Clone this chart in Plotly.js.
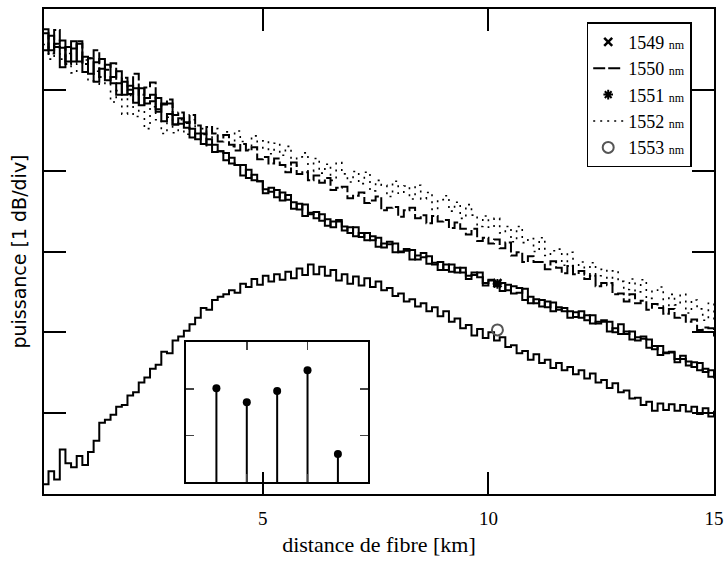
<!DOCTYPE html>
<html>
<head>
<meta charset="utf-8">
<script src="https://cdn.plot.ly/plotly-3.0.1.min.js"></script>
<style>html,body{margin:0;padding:0;background:#fff;}#chart{width:728px;height:563px;}</style>
</head>
<body>
<div id="chart"></div>
<script>
// distance along the fibre [km]
const distanceKm = [
0.125,0.25,0.375,0.5,0.625,0.75,0.875,1,
1.125,1.25,1.375,1.5,1.625,1.75,1.875,2,
2.125,2.25,2.375,2.5,2.625,2.75,2.875,3,
3.125,3.25,3.375,3.5,3.625,3.75,3.875,4,
4.125,4.25,4.375,4.5,4.625,4.75,4.875,5,
5.125,5.25,5.375,5.5,5.625,5.75,5.875,6,
6.125,6.25,6.375,6.5,6.625,6.75,6.875,7,
7.125,7.25,7.375,7.5,7.625,7.75,7.875,8,
8.125,8.25,8.375,8.5,8.625,8.75,8.875,9,
9.125,9.25,9.375,9.5,9.625,9.75,9.875,10,
10.125,10.25,10.375,10.5,10.625,10.75,10.875,11,
11.125,11.25,11.375,11.5,11.625,11.75,11.875,12,
12.125,12.25,12.375,12.5,12.625,12.75,12.875,13,
13.125,13.25,13.375,13.5,13.625,13.75,13.875,14,
14.125,14.25,14.375,14.5,14.625,14.75,14.875,15];

// power [dB, 1 dB/div, arbitrary origin]
const p1549 = [
5.49,5.67,5.53,5.28,5.53,5.35,5.57,5.22,
5.39,5.10,5.26,5.31,5.08,4.94,5.10,5.00,
4.84,5.02,4.83,4.86,4.90,4.61,4.70,4.57,
4.65,4.53,4.41,4.46,4.33,4.39,4.23,4.24,
4.13,4.16,4.07,3.94,4.01,3.88,3.87,3.72,
3.79,3.67,3.73,3.64,3.53,3.59,3.44,3.48,
3.41,3.46,3.32,3.37,3.39,3.26,3.30,3.19,
3.23,3.14,3.19,3.06,3.10,3.12,2.99,3.00,
3.03,2.90,2.95,2.98,2.85,2.86,2.77,2.84,
2.75,2.80,2.74,2.66,2.74,2.68,2.58,2.64,
2.60,2.51,2.59,2.48,2.49,2.54,2.36,2.41,
2.32,2.38,2.26,2.31,2.26,2.18,2.25,2.18,
2.21,2.11,2.13,2.15,2.01,2.05,1.98,2.01,
1.91,1.94,1.95,1.81,1.83,1.72,1.75,1.76,
1.63,1.67,1.59,1.63,1.53,1.55,1.45,1.47];

const p1550 = [
5.70,5.45,5.74,5.52,5.32,5.51,5.60,5.32,
5.39,5.49,5.16,5.25,5.33,5.08,5.15,4.95,
5.20,4.94,5.03,5.09,4.76,4.83,4.88,4.69,
4.72,4.59,4.69,4.56,4.45,4.54,4.46,4.36,
4.44,4.32,4.25,4.33,4.25,4.29,4.14,4.17,
4.09,4.15,4.07,3.98,4.10,3.96,3.98,3.88,
3.94,3.85,3.91,3.76,3.79,3.80,3.66,3.69,
3.73,3.60,3.63,3.68,3.51,3.54,3.55,3.43,
3.51,3.54,3.41,3.45,3.35,3.44,3.37,3.39,
3.29,3.36,3.28,3.21,3.28,3.13,3.17,3.10,
3.15,3.04,3.11,2.95,2.99,2.87,2.94,2.87,
2.87,2.78,2.88,2.80,2.73,2.82,2.72,2.76,
2.66,2.70,2.57,2.61,2.61,2.47,2.48,2.38,
2.47,2.36,2.39,2.28,2.35,2.30,2.23,2.29,
2.18,2.21,2.13,2.16,2.03,2.06,2.05,1.95];

const p1551 = [
5.75,5.49,5.57,5.61,5.35,5.60,5.35,5.41,
5.20,5.34,5.38,5.12,5.16,5.23,4.94,5.05,
5.02,4.81,4.90,4.94,4.73,4.82,4.83,4.57,
4.58,4.60,4.52,4.39,4.46,4.32,4.32,4.24,
4.22,4.09,4.07,4.07,3.91,3.95,3.87,3.77,
3.74,3.76,3.63,3.70,3.61,3.52,3.58,3.46,
3.49,3.38,3.40,3.30,3.37,3.31,3.23,3.30,
3.18,3.23,3.14,3.17,3.05,3.09,3.10,2.99,
3.01,3.02,2.90,2.93,2.94,2.84,2.87,2.77,
2.84,2.74,2.80,2.70,2.71,2.74,2.61,2.65,
2.57,2.61,2.52,2.57,2.55,2.40,2.44,2.36,
2.40,2.31,2.37,2.28,2.30,2.26,2.19,2.26,
2.15,2.21,2.11,2.13,2.13,2.00,2.10,1.98,
2.01,1.90,1.92,1.91,1.79,1.83,1.74,1.75,
1.67,1.71,1.64,1.57,1.62,1.51,1.53,1.43];

const p1552 = [
5.56,5.38,5.57,5.38,5.45,5.21,5.33,5.37,
5.11,5.23,5.07,5.17,4.85,4.99,4.70,4.93,
4.67,4.83,4.52,4.79,4.63,4.46,4.66,4.47,
4.63,4.45,4.63,4.45,4.52,4.31,4.52,4.43,
4.48,4.30,4.49,4.36,4.26,4.43,4.27,4.37,
4.21,4.34,4.19,4.30,4.06,4.17,4.22,3.99,
4.15,3.97,4.08,3.88,4.10,3.96,3.86,3.99,
3.84,3.98,3.75,3.88,3.82,3.68,3.87,3.72,
3.81,3.65,3.82,3.65,3.73,3.52,3.64,3.69,
3.50,3.61,3.41,3.58,3.45,3.31,3.44,3.30,
3.41,3.23,3.31,3.12,3.31,3.11,3.16,3.00,
3.17,2.95,3.01,3.03,2.83,2.99,2.82,2.87,
2.71,2.86,2.70,2.78,2.58,2.76,2.63,2.53,
2.66,2.50,2.65,2.42,2.52,2.56,2.32,2.47,
2.34,2.47,2.24,2.40,2.29,2.15,2.36,2.14];

const p1553 = [
0.12,0.28,0.18,0.55,0.38,0.33,0.47,0.36,
0.52,0.66,0.88,0.92,0.98,1.08,1.10,1.22,
1.26,1.38,1.44,1.55,1.60,1.76,1.74,1.90,
1.95,2.02,2.10,2.18,2.30,2.28,2.40,2.44,
2.47,2.52,2.49,2.60,2.56,2.66,2.59,2.70,
2.63,2.72,2.65,2.75,2.67,2.79,2.71,2.84,
2.72,2.81,2.70,2.77,2.64,2.72,2.60,2.69,
2.58,2.67,2.56,2.63,2.52,2.55,2.45,2.48,
2.38,2.41,2.32,2.36,2.26,2.31,2.20,2.26,
2.13,2.17,2.05,2.09,1.96,2.04,1.93,2.00,
1.90,1.94,1.82,1.84,1.74,1.77,1.66,1.73,
1.62,1.66,1.56,1.62,1.53,1.57,1.48,1.53,
1.43,1.49,1.38,1.41,1.31,1.37,1.26,1.28,
1.18,1.19,1.10,1.14,1.03,1.12,1.04,1.11,
1.03,1.10,1.02,1.08,0.99,1.06,0.96,1.03];

// single symbols placed on the curves
const markKm = [10.2];
const mark1549 = [2.61];
const mark1551 = [2.60];
const mark1553 = [2.03];

// inset: one stem per wavelength
const insetIndex = [1, 2, 3, 4, 5];
const insetValues = [2.01, 1.71, 1.95, 2.40, 0.60];

const legendNames = [
  '1549 <span style="font-size:12px">nm</span>',
  '1550 <span style="font-size:12px">nm</span>',
  '1551 <span style="font-size:12px">nm</span>',
  '1552 <span style="font-size:12px">nm</span>',
  '1553 <span style="font-size:12px">nm</span>'
];

const SERIF = 'Liberation Serif, Times New Roman, serif';
const LW = 2;

const traces = [
  {x: distanceKm, y: p1549, mode: 'lines', line: {color: '#000', width: LW, shape: 'hv'}, showlegend: false, hoverinfo: 'skip'},
  {x: distanceKm, y: p1551, mode: 'lines', line: {color: '#000', width: LW, shape: 'hv'}, showlegend: false, hoverinfo: 'skip'},
  {x: distanceKm, y: p1553, mode: 'lines', line: {color: '#000', width: LW, shape: 'hv'}, showlegend: false, hoverinfo: 'skip'},
  // legend-bearing traces, in legend order
  {x: markKm, y: mark1549, mode: 'markers', name: legendNames[0], marker: {symbol: 'x-thin-open', size: 8, color: '#000', line: {width: 2.5, color: '#000'}}},
  {x: distanceKm, y: p1550, mode: 'lines', name: legendNames[1], line: {color: '#000', width: LW, shape: 'hv', dash: '12px,3px'}},
  {x: markKm, y: mark1551, mode: 'markers', name: legendNames[2], marker: {symbol: 'asterisk-open', size: 8, color: '#000', line: {width: 2, color: '#000'}}},
  {x: distanceKm, y: p1552, mode: 'lines', name: legendNames[3], line: {color: '#000', width: 1.6, shape: 'hv', dash: '2px,5px'}},
  {x: markKm, y: mark1553, mode: 'markers', name: legendNames[4], marker: {symbol: 'circle-open', size: 11, color: '#555', line: {width: 2, color: '#555'}}},
  // inset stems
  {x: insetIndex, y: insetValues, xaxis: 'x2', yaxis: 'y2', mode: 'markers', showlegend: false,
   marker: {symbol: 'circle', size: 8, color: '#000'},
   error_y: {type: 'data', symmetric: false, array: insetValues.map(() => 0), arrayminus: insetValues, width: 0, thickness: 2, color: '#000'}}
];

const layout = {
  width: 728, height: 563,
  margin: {l: 44, r: 14, t: 9, b: 69},
  paper_bgcolor: '#fff', plot_bgcolor: 'rgba(0,0,0,0)',
  showlegend: true,
  legend: {x: 0.81, y: 0.973, xanchor: 'left', yanchor: 'top', bgcolor: '#fff', bordercolor: '#000', borderwidth: 1.5,
           font: {family: SERIF, size: 18, color: '#000'}, itemwidth: 30, tracegroupgap: 0},
  xaxis: {range: [0.15, 15], tickvals: [5, 10, 15], ticks: 'inside', ticklen: 22, tickwidth: 2, tickcolor: '#000',
          showline: true, linewidth: 2, linecolor: '#000', mirror: 'ticks', showgrid: false, zeroline: false,
          tickfont: {family: SERIF, size: 19, color: '#000'}, ticklabelstandoff: 6,
          title: {text: 'distance de fibre [km]', font: {family: SERIF, size: 22, color: '#000'}, standoff: 9}},
  yaxis: {range: [0, 6], tickvals: [1, 2, 3, 4, 5], ticks: 'inside', ticklen: 22, tickwidth: 2, tickcolor: '#000',
          showline: true, linewidth: 2, linecolor: '#000', mirror: 'ticks', showgrid: false, zeroline: false,
          showticklabels: false,
          title: {text: 'puissance [1 dB/div]', font: {family: 'DejaVu Sans, Liberation Sans, sans-serif', size: 19, color: '#000'}, standoff: 10}},
  xaxis2: {domain: [0.212, 0.484], anchor: 'y2', range: [0, 6], tickvals: [2, 4], ticks: 'inside', ticklen: 8, tickwidth: 1.5,
           showline: true, linewidth: 1.8, linecolor: '#000', mirror: 'ticks', showgrid: false, zeroline: false, showticklabels: false},
  yaxis2: {domain: [0.025, 0.313], anchor: 'x2', range: [0, 3], tickvals: [1, 2], ticks: 'inside', ticklen: 8, tickwidth: 1.5,
           showline: true, linewidth: 1.8, linecolor: '#000', mirror: 'ticks', showgrid: false, zeroline: false, showticklabels: false}
};

Plotly.newPlot('chart', traces, layout, {staticPlot: true, displayModeBar: false});
</script>
</body>
</html>
